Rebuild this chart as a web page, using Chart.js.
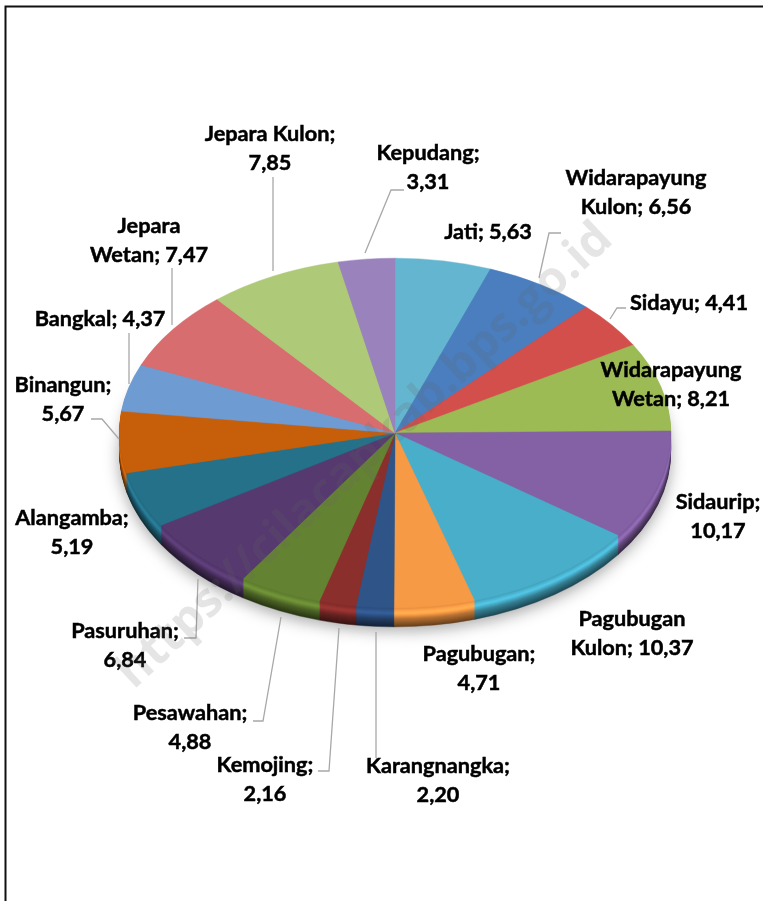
<!DOCTYPE html>
<html>
<head>
<meta charset="utf-8">
<style>
	html, body { margin: 0; padding: 0; background: #fff; overflow: hidden; }
	canvas { display: block; }
</style>
<script src="https://cdn.jsdelivr.net/npm/chart.js@4/dist/chart.umd.min.js"></script>
</head>
<body>
<canvas id="mycanvas" width="763" height="901"></canvas>
<script>
var villages = ['Jati', 'Widarapayung Kulon', 'Sidayu', 'Widarapayung Wetan', 'Sidaurip', 'Pagubugan Kulon', 'Pagubugan', 'Karangnangka', 'Kemojing', 'Pesawahan', 'Pasuruhan', 'Alangamba', 'Binangun', 'Bangkal', 'Jepara Wetan', 'Jepara Kulon', 'Kepudang'];
var shares = [5.63, 6.56, 4.41, 8.21, 10.17, 10.37, 4.71, 2.20, 2.16, 4.88, 6.84, 5.19, 5.67, 4.37, 7.47, 7.85, 3.31];
var colours = ['#64b5cf', '#4a7ebf', '#d24f4c', '#9dbb55', '#8460a4', '#49aeca', '#f79a46', '#2f5488', '#8b2f2d', '#648332', '#56396f', '#25718a', '#c75f0a', '#6f9bd3', '#d76d6f', '#aeca78', '#9a83bd'];

// where each label goes: the lines as split in the picture, centre x, first line y
var labelLines = [
	['Jati; 5,63'], ['Widarapayung', 'Kulon; 6,56'], ['Sidayu; 4,41'], ['Widarapayung', 'Wetan; 8,21'],
	['Sidaurip;', '10,17'], ['Pagubugan', 'Kulon; 10,37'], ['Pagubugan;', '4,71'], ['Karangnangka;', '2,20'],
	['Kemojing;', '2,16'], ['Pesawahan;', '4,88'], ['Pasuruhan;', '6,84'], ['Alangamba;', '5,19'],
	['Binangun;', '5,67'], ['Bangkal; 4,37'], ['Jepara', 'Wetan; 7,47'], ['Jepara Kulon;', '7,85'], ['Kepudang;', '3,31']
];
var labelX = [488, 636, 689, 671, 718, 632, 479, 438, 265, 190, 125, 72, 63, 100, 149, 270, 428];
var labelY = [232, 178, 303, 370, 502, 619, 654, 766, 765, 713, 631, 518, 385, 319, 226, 134, 153];

var leaders = [
	[[273, 177], [273, 271]],
	[[404, 190], [391, 190], [365, 253]],
	[[539, 278], [549, 233], [561, 233]],
	[[610, 319], [617, 308], [626, 308]],
	[[172, 268], [172, 325]],
	[[129, 333], [129, 384]],
	[[91, 419], [102, 419], [119, 439]],
	[[198, 579], [196, 638], [184, 638]],
	[[281, 617], [263, 721], [253, 721]],
	[[339, 628], [329, 771], [318, 771]],
	[[376, 632], [376, 758]]
];

var centerY = 433;
var radius = 276;
var squash = 175 / 276;
var rimDepth = 19;

function shade(hex, k) {
	var out = [1, 3, 5].map(function(i) {
		var c = parseInt(hex.substr(i, 2), 16) * k;
		return Math.min(255, Math.round(c));
	});
	return 'rgb(' + out.join(',') + ')';
}

function rimShade(t) {
	if (t < 0.4) return 0.42 + t * 0.8;
	if (t < 0.7) return 0.74 + (t - 0.4) * 1.4;
	return 1.16 - (t - 0.7) * 0.9;
}

function squashed(ctx) {
	ctx.translate(0, centerY);
	ctx.scale(1, squash);
	ctx.translate(0, -centerY);
}

var pie3d = {
	id: 'pie3d',
	beforeDraw: function(chart) {
		var ctx = chart.ctx;
		ctx.save();
		ctx.strokeStyle = '#111';
		ctx.lineWidth = 2;
		ctx.beginPath();
		ctx.moveTo(5.5, 901);
		ctx.lineTo(5.5, 6.5);
		ctx.lineTo(763, 6.5);
		ctx.stroke();
		ctx.restore();
	},
	beforeDatasetsDraw: function(chart) {
		var ctx = chart.ctx;
		var arcs = chart.getDatasetMeta(0).data;
		ctx.save();
		for (var d = rimDepth; d > 0; d--) {
			ctx.save();
			if (d == rimDepth) {
				ctx.shadowColor = 'rgba(0,0,0,0.35)';
				ctx.shadowBlur = 16;
				ctx.shadowOffsetY = 4;
			}
			ctx.translate(0, d);
			squashed(ctx);
			arcs.forEach(function(arc, i) {
				var layer = Object.create(arc);
				var c = shade(colours[i], rimShade(1 - d / rimDepth));
				layer.options = Object.assign({}, arc.options, { backgroundColor: c, borderColor: c });
				layer.draw(ctx, chart.chartArea);
			});
			ctx.restore();
		}
		// the dataset itself is drawn by the library under this same squash
		squashed(ctx);
	},
	afterDatasetsDraw: function(chart) {
		chart.ctx.restore();
	},
	afterDraw: function(chart) {
		var ctx = chart.ctx;
		ctx.save();

		ctx.strokeStyle = '#a8a8a8';
		ctx.lineWidth = 1.3;
		leaders.forEach(function(pts) {
			ctx.beginPath();
			pts.forEach(function(p, i) {
				if (i == 0) ctx.moveTo(p[0], p[1]);
				else ctx.lineTo(p[0], p[1]);
			});
			ctx.stroke();
		});

		ctx.fillStyle = '#000';
		ctx.strokeStyle = '#000';
		ctx.lineWidth = 0.5;
		ctx.font = 'bold 21.7px Lato';
		ctx.textAlign = 'center';
		ctx.textBaseline = 'middle';
		labelLines.forEach(function(lines, i) {
			lines.forEach(function(line, j) {
				ctx.fillText(line, labelX[i], labelY[i] + j * 29);
				ctx.strokeText(line, labelX[i], labelY[i] + j * 29);
			});
		});

		ctx.translate(365, 456);
		ctx.rotate(-43 * Math.PI / 180);
		ctx.fillStyle = 'rgba(100,100,100,0.17)';
		ctx.font = 'bold 47.5px "Open Sans"';
		ctx.fillText('https://cilacapkab.bps.go.id', 0, 0);
		ctx.restore();
	}
};

new Chart(document.getElementById('mycanvas'), {
	type: 'pie',
	data: {
		labels: villages,
		datasets: [{
			data: shares,
			backgroundColor: colours,
			borderColor: colours,
			borderWidth: 0.6
		}]
	},
	options: {
		responsive: false,
		animation: false,
		layout: { padding: { left: 119, right: 92, top: centerY - radius, bottom: 901 - centerY - radius } },
		plugins: { legend: { display: false }, tooltip: { enabled: false } }
	},
	plugins: [pie3d]
});
</script>
</body>
</html>
